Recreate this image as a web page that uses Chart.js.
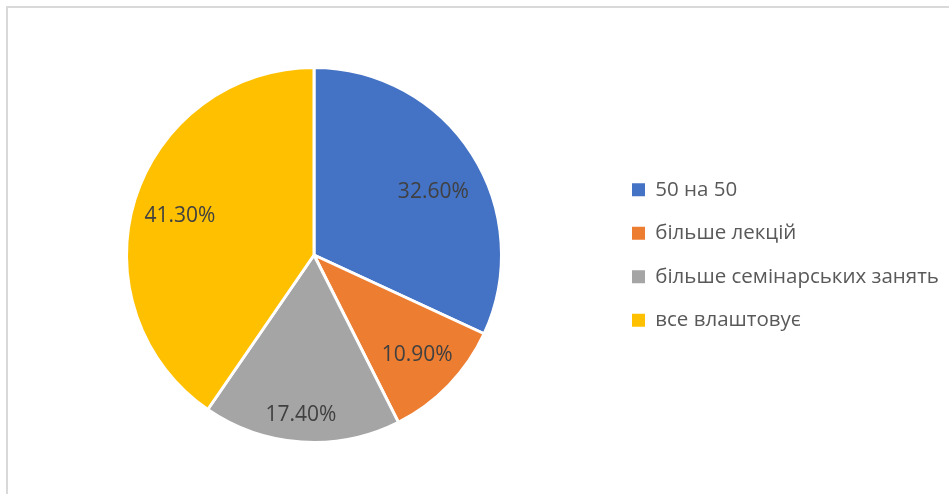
<!DOCTYPE html>
<html>
<head>
<meta charset="utf-8">
<script src="https://cdn.jsdelivr.net/npm/chart.js@4/dist/chart.umd.min.js"></script>
<style>
  html, body { margin: 0; padding: 0; background: #ffffff; overflow: hidden; }
  #frame { position: absolute; left: 6px; top: 6px; width: 1000px; height: 600px; border: 2px solid #d9d9d9; box-sizing: border-box; }
  #wrap { position: absolute; left: 0; top: 0; width: 949px; height: 494px; }
</style>
</head>
<body>
<div id="frame"></div>
<div id="wrap"><canvas id="c" width="949" height="494"></canvas></div>
<script>
const categories = ["50 на 50", "більше лекцій", "більше семінарських занять", "все влаштовує"];
const values = [32.6, 10.9, 17.4, 41.3];
const colors = ["#4472C4", "#ED7D31", "#A5A5A5", "#FFC000"];
const labelRadiusFactors = [0.72, 0.765, 0.855, 0.745];
const labelAngleOffsetsDeg = [4.7, 0, 0.8, -1.1];

const FONT = "'Open Sans', 'Noto Sans', sans-serif";
const legendFontSize = 20.5;
const legendPad = 23;
const legendBox = 13;
const legendBoxTargetX = 632;
const centerX = 314;

const dataLabels = {
  id: 'dataLabels',
  afterDatasetsDraw(chart) {
    const ctx = chart.ctx;
    const meta = chart.getDatasetMeta(0);
    ctx.save();
    ctx.font = "21px " + FONT;
    ctx.fillStyle = "#404040";
    ctx.textAlign = "center";
    ctx.textBaseline = "middle";
    meta.data.forEach((arc, i) => {
      const p = arc.getProps(['x', 'y', 'startAngle', 'endAngle', 'outerRadius'], true);
      const mid = (p.startAngle + p.endAngle) / 2 + labelAngleOffsetsDeg[i] * Math.PI / 180;
      const r = p.outerRadius * labelRadiusFactors[i];
      const x = p.x + Math.cos(mid) * r;
      const y = p.y + Math.sin(mid) * r;
      ctx.fillText(values[i].toFixed(2) + "%", x, y);
    });
    ctx.restore();
  }
};

const chart = new Chart(document.getElementById('c'), {
  type: 'pie',
  data: {
    labels: categories,
    datasets: [{
      data: values,
      backgroundColor: colors,
      borderColor: "#ffffff",
      borderWidth: 3
    }]
  },
  options: {
    responsive: false,
    animation: false,
    layout: { padding: { top: 66, bottom: 50, left: 0, right: 0 } },
    plugins: {
      tooltip: { enabled: false },
      legend: {
        position: 'right',
        align: 'center',
        labels: {
          boxWidth: legendBox,
          boxHeight: legendBox,
          padding: legendPad,
          color: "#595959",
          font: { size: legendFontSize, family: FONT },
          generateLabels(ch) {
            const items = Chart.overrides.pie.plugins.legend.labels.generateLabels(ch);
            items.forEach(it => { it.lineWidth = 0; it.strokeStyle = 'rgba(0,0,0,0)'; });
            return items;
          }
        }
      }
    }
  },
  plugins: [dataLabels]
});

// place legend so its boxes sit at the target x, and centre the pie at centerX
(function adjust() {
  const lg = chart.legend;
  const boxXNow = lg.legendHitBoxes.length ? lg.legendHitBoxes[0].left : lg.left + legendPad;
  const offsetInLegend = boxXNow - lg.left;
  const newLeft = legendBoxTargetX - offsetInLegend;
  const padRight = Math.max(0, 949 - newLeft - lg.width);
  const actualLegendLeft = 949 - padRight - lg.width;
  const padLeft = Math.max(0, centerX * 2 - actualLegendLeft);
  chart.options.layout.padding.right = padRight;
  chart.options.layout.padding.left = padLeft;
  chart.update('none');
})();
</script>
</body>
</html>
